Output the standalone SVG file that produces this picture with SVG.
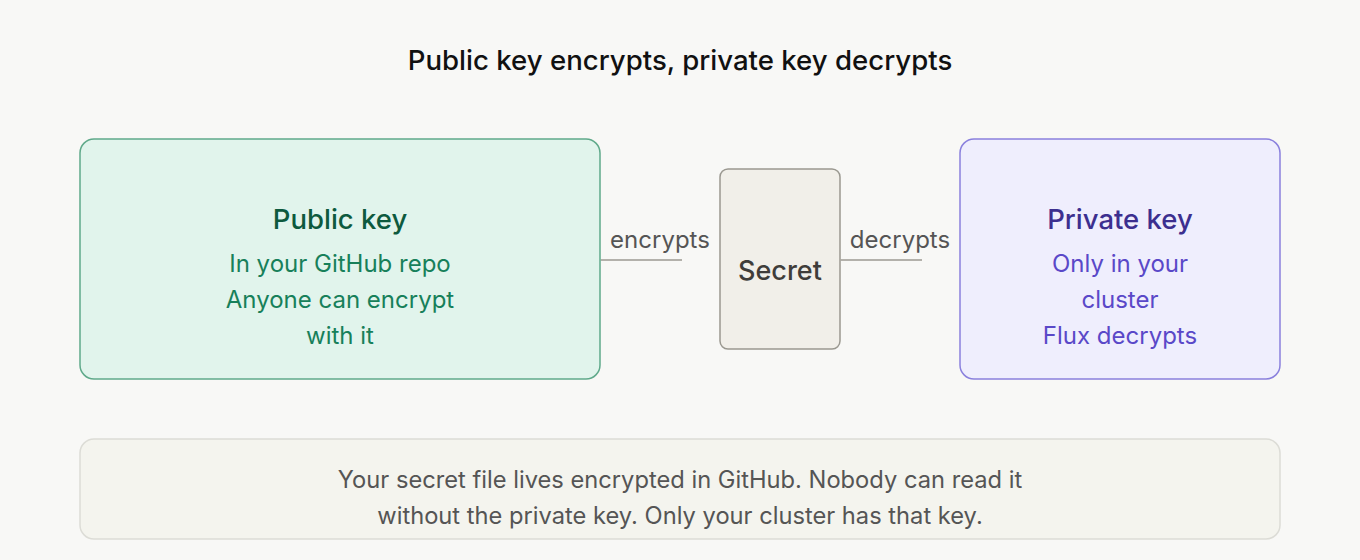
<svg xmlns="http://www.w3.org/2000/svg" width="1360" height="560" viewBox="0 0 1360 560">
<style>
text{font-family:Inter,"Noto Sans","Liberation Sans",sans-serif;}
.title{font-size:27.6px;fill:#111;font-weight:500;}
.h{font-size:27.5px;font-weight:500;}
.b{font-size:24px;}
.n{font-size:23.7px;fill:#555;}
.lbl{font-size:24px;fill:#555;}
.edge{stroke:#b3b1ab;stroke-width:2;fill:none;}
</style>
<defs>
<marker id="ah" markerWidth="6" markerHeight="6" refX="1" refY="3" orient="auto" markerUnits="userSpaceOnUse">
<path d="M5,1 L1,3 L5,5 Z" fill="#8a8882"/>
</marker>
</defs>
<rect width="1360" height="560" fill="#f8f8f6"/>
<text class="title" x="680" y="70" text-anchor="middle">Public key encrypts, private key decrypts</text>
<g id="connectors">
<line class="edge" x1="682" y1="260" x2="601" y2="260" marker-end="url(#ah)"/>
<text class="lbl" x="660" y="248" text-anchor="middle">encrypts</text>
<line class="edge" x1="922" y1="260" x2="841" y2="260" marker-end="url(#ah)"/>
<text class="lbl" x="900" y="248" text-anchor="middle">decrypts</text>
</g>
<g id="public-key">
<rect x="80" y="139" width="520" height="240" rx="14" fill="#e1f4ec" stroke="#5fa98a" stroke-width="1.5"/>
<text class="h" x="340" y="229" text-anchor="middle" fill="#0d5a3e">Public key</text>
<text class="b" x="340" y="272" text-anchor="middle" fill="#17805a">In your GitHub repo</text>
<text class="b" x="340" y="308" text-anchor="middle" fill="#17805a">Anyone can encrypt</text>
<text class="b" x="340" y="344" text-anchor="middle" fill="#17805a">with it</text>
</g>
<g id="secret">
<rect x="720" y="169" width="120" height="180" rx="8" fill="#f1efe9" stroke="#9a9890" stroke-width="1.5"/>
<text x="780" y="280" text-anchor="middle" font-size="27" fill="#3f3d3a" font-weight="500">Secret</text>
</g>
<g id="private-key">
<rect x="960" y="139" width="320" height="240" rx="14" fill="#efeefd" stroke="#8a80dd" stroke-width="1.5"/>
<text class="h" x="1120" y="229" text-anchor="middle" fill="#3c2f8f">Private key</text>
<text class="b" x="1120" y="272" text-anchor="middle" fill="#5a48c8">Only in your</text>
<text class="b" x="1120" y="308" text-anchor="middle" fill="#5a48c8">cluster</text>
<text class="b" x="1120" y="344" text-anchor="middle" fill="#5a48c8">Flux decrypts</text>
</g>
<g id="note">
<rect x="80" y="439" width="1200" height="100" rx="14" fill="#f4f4ee" stroke="#dcdcd6" stroke-width="1.5"/>
<text class="n" x="680" y="488" text-anchor="middle">Your secret file lives encrypted in GitHub. Nobody can read it</text>
<text class="n" x="680" y="524" text-anchor="middle">without the private key. Only your cluster has that key.</text>
</g>
</svg>
